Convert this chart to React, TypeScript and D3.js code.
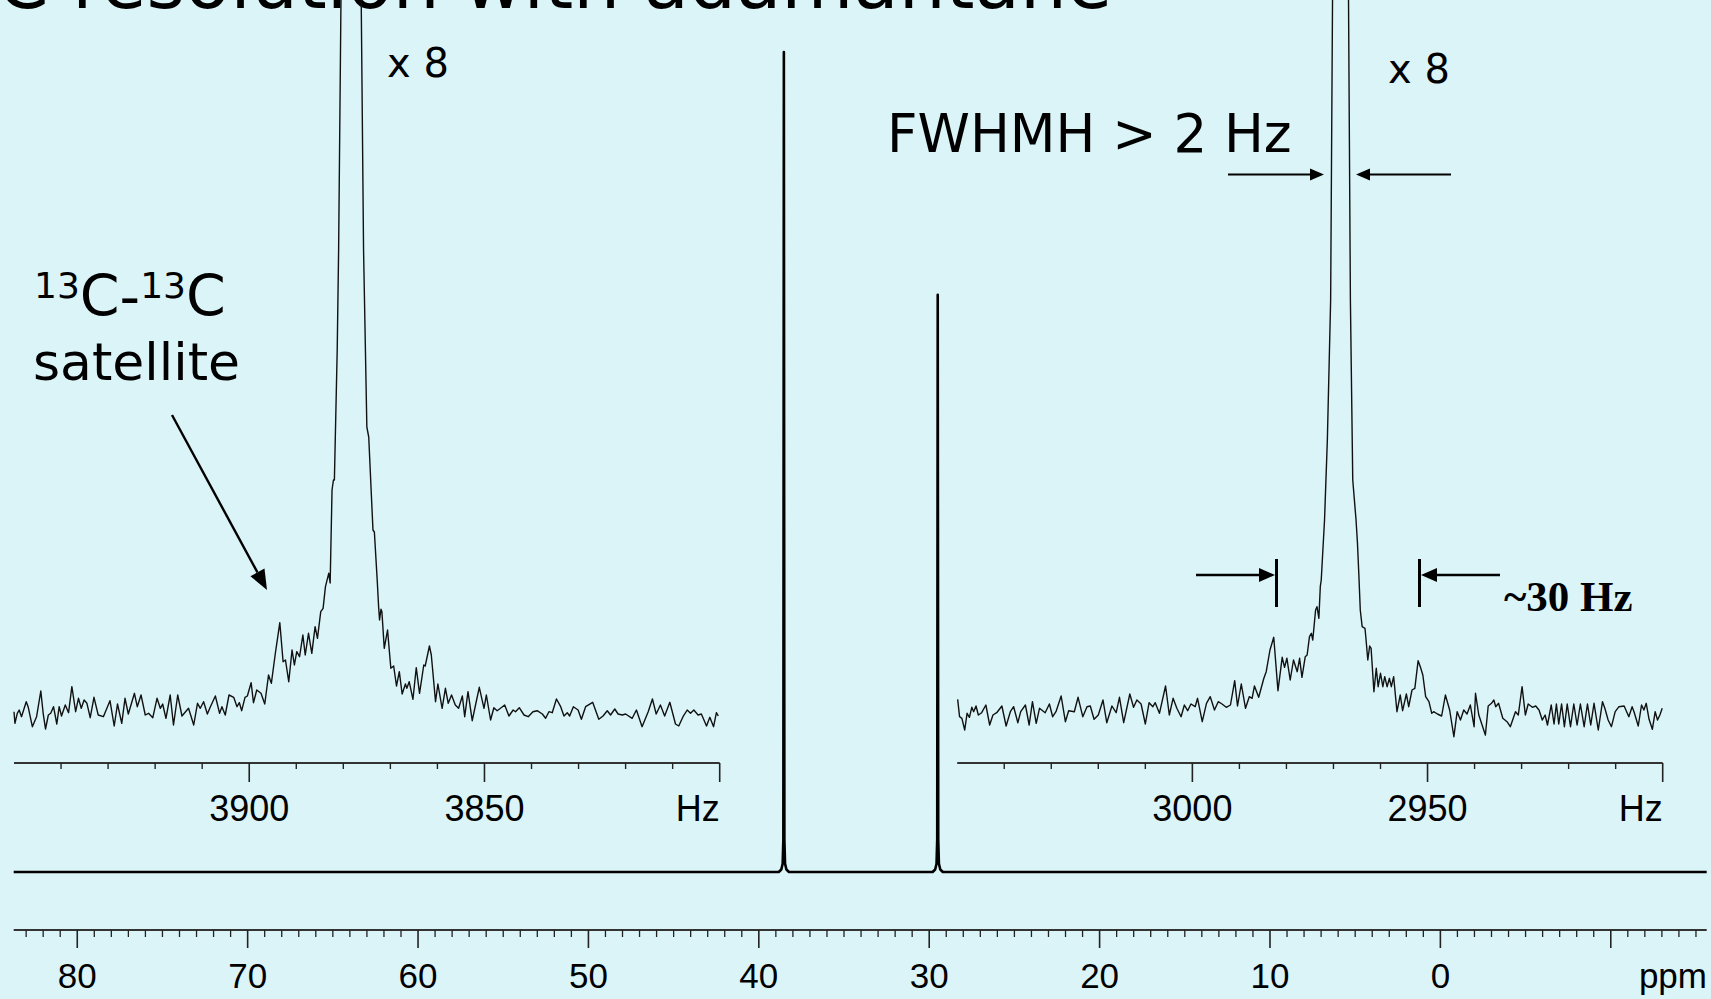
import React from "react";
import * as d3 from "d3";

// ---------- data ----------
// main spectrum (ppm vs relative intensity, tallest peak = 100)
const mainPpm = [83.73, 38.83, 38.68, 38.6, 38.56, 38.53, 38.5, 38.46, 38.38, 38.23, 29.8, 29.65, 29.57, 29.53, 29.5, 29.47, 29.43, 29.35, 29.2, -15.63];
const mainInt = [0, 0, 0.3, 1, 4, 100, 4, 1, 0.3, 0, 0, 0.3, 1, 4, 70.4, 4, 1, 0.3, 0, 0];
const mainMajorTicks = [80, 70, 60, 50, 40, 30, 20, 10, 0, -10];
const mainTickLabels = ["80", "70", "60", "50", "40", "30", "20", "10", "0", ""];

// left inset (x8), Hz vs intensity
const leftHz = [3950.0, 3949.8, 3949.3, 3948.9, 3948.4, 3947.4, 3947.0, 3946.1, 3945.2, 3944.3, 3943.8, 3943.3, 3942.7, 3942.2, 3941.6, 3940.9, 3940.4, 3939.9, 3939.1, 3938.4, 3937.7, 3936.9, 3936.3, 3935.7, 3935.1, 3934.5, 3933.8, 3933.0, 3932.1, 3931.0, 3929.6, 3928.7, 3928.0, 3927.1, 3926.4, 3925.7, 3924.4, 3923.8, 3923.0, 3922.1, 3921.4, 3920.5, 3919.6, 3918.9, 3918.4, 3917.7, 3916.8, 3916.1, 3915.2, 3914.3, 3912.9, 3911.8, 3911.0, 3910.4, 3909.7, 3908.9, 3908.3, 3907.2, 3906.3, 3905.8, 3905.1, 3904.3, 3903.3, 3902.6, 3902.1, 3901.6, 3900.9, 3900.4, 3899.6, 3899.1, 3898.4, 3897.5, 3896.7, 3895.9, 3895.3, 3894.5, 3893.5, 3892.8, 3892.3, 3891.6, 3890.9, 3890.4, 3889.9, 3889.3, 3888.6, 3888.1, 3887.4, 3886.7, 3886.0, 3885.5, 3884.8, 3884.3, 3883.8, 3883.1, 3882.8, 3882.4, 3882.1, 3881.9, 3881.3, 3881.0, 3880.5, 3880.3, 3878.3, 3876.3, 3876.2, 3875.7, 3875.0, 3874.6, 3873.7, 3873.4, 3872.8, 3872.5, 3872.3, 3872.0, 3871.8, 3871.3, 3870.6, 3869.9, 3869.3, 3868.7, 3868.1, 3867.5, 3866.8, 3866.5, 3866.0, 3865.2, 3864.5, 3863.8, 3862.9, 3862.6, 3861.7, 3861.3, 3860.4, 3859.9, 3859.0, 3858.3, 3857.7, 3857.0, 3856.2, 3855.5, 3854.7, 3854.2, 3853.5, 3852.6, 3851.9, 3851.1, 3850.1, 3849.6, 3848.7, 3848.0, 3847.3, 3846.6, 3845.7, 3844.8, 3843.9, 3843.4, 3842.6, 3841.6, 3840.7, 3839.7, 3838.8, 3837.7, 3837.0, 3836.3, 3835.6, 3834.7, 3833.8, 3833.1, 3832.4, 3831.9, 3831.1, 3830.1, 3829.4, 3828.5, 3827.0, 3825.7, 3824.8, 3823.9, 3823.2, 3822.3, 3821.6, 3820.7, 3820.0, 3818.6, 3817.7, 3816.5, 3815.2, 3814.3, 3813.5, 3812.6, 3811.7, 3810.6, 3809.4, 3808.7, 3807.8, 3806.9, 3806.2, 3805.5, 3804.6, 3803.9, 3802.8, 3802.1, 3801.3, 3800.7, 3800.3];
const leftInt = [8.3, -3.3, 6.7, 10, 3.3, 18.3, 13.3, -6.7, 3.3, 29, 6.7, -9, 5, 6.7, 13.3, -4, 13.3, 4, 15, 7.3, 33.3, 8.3, 21.7, 11.7, 20, 16.7, 2.3, 22.7, 5, 3.3, 19.3, -6, 16, -3.3, 21.7, 6, 26.7, 13.3, 25, 5, 6.7, 2.3, 21.7, 11.7, 16, 1.7, 25, -5, 25, 4, 11.7, -5, 16.7, 11.7, 18.3, 6, 12.7, 24, 6.7, 13.3, 5, 25, 22.7, 13.3, 17.3, 9.3, 22.7, 24, 37.3, 17.3, 30, 26.7, 16, 45, 36.7, 65, 97.3, 58.3, 60, 38.3, 70, 55, 68.3, 63.3, 85, 65, 86.7, 66.7, 93.3, 81.7, 108.3, 111.7, 133.3, 146.7, 137, 230, 240, 240, 370, 470, 720, 900, 2200, 900, 720, 470, 293, 283, 190, 188, 140, 113.3, 100, 110.7, 108.3, 71.7, 90, 51.7, 54, 34, 48.3, 26, 36, 31.7, 38.3, 20.7, 52.3, 26.7, 55, 54, 74, 65, 18.3, 36, 11.7, 31.7, 16.7, 25, 15, 11.7, 24, 3.3, 28.3, -0.7, 15, 32.7, 11.7, 25, 0, 12.3, 9.3, 11.7, 15, 4, 10, 8.3, 12.3, 5, 3.3, 8.3, 9.3, 6, 1.7, 8.3, 7.3, 21, 13.3, 4, 7.3, 4, 13.3, 10, 0.7, 13.3, 17.7, 0.7, 4, 9.3, 5, 11, 6, 5, 6, 1.7, 10, -6.7, 8.3, 21, 6, 15, 4, 17.7, -4, -6, 3.3, 10, 6.7, 10, 5, 6, -6, 2.7, -6.7, 7.3, 4];
const leftMajorTicks = [3900, 3850, 3800];
const leftTickLabels = ["3900", "3850", ""];

// right inset (x8), Hz vs intensity
const rightHz = [3049.9, 3049.5, 3049.0, 3048.4, 3047.9, 3047.4, 3046.9, 3046.5, 3046.0, 3045.5, 3044.8, 3043.9, 3043.1, 3042.4, 3041.6, 3040.5, 3039.6, 3038.7, 3038.0, 3037.1, 3036.5, 3035.5, 3034.7, 3034.0, 3033.2, 3032.5, 3031.3, 3030.4, 3029.7, 3029.0, 3027.9, 3027.0, 3026.3, 3025.1, 3024.3, 3023.3, 3022.4, 3021.7, 3020.9, 3020.0, 3019.0, 3018.2, 3017.1, 3016.2, 3015.5, 3014.6, 3013.3, 3012.5, 3011.8, 3010.9, 3010.0, 3009.2, 3008.4, 3007.9, 3007.0, 3005.7, 3004.9, 3004.1, 3003.3, 3002.4, 3001.7, 3001.0, 3000.3, 2999.4, 2998.9, 2997.9, 2997.0, 2996.2, 2995.3, 2994.5, 2993.7, 2992.8, 2991.9, 2991.0, 2990.4, 2989.6, 2988.7, 2987.9, 2987.3, 2986.8, 2985.9, 2984.8, 2984.3, 2983.5, 2982.7, 2981.8, 2980.9, 2980.4, 2979.9, 2979.2, 2978.5, 2977.7, 2977.2, 2976.7, 2976.0, 2975.6, 2975.1, 2974.7, 2974.4, 2973.8, 2973.5, 2973.1, 2972.8, 2972.6, 2971.9, 2971.3, 2970.6, 2970.2, 2970.0, 2968.5, 2967.0, 2966.8, 2966.4, 2965.9, 2965.2, 2964.9, 2964.6, 2964.3, 2963.9, 2963.3, 2963.1, 2962.7, 2962.3, 2962.0, 2961.4, 2960.9, 2960.5, 2960.0, 2959.5, 2959.1, 2958.6, 2958.1, 2957.7, 2957.2, 2956.5, 2955.8, 2955.3, 2954.5, 2954.0, 2953.3, 2952.7, 2952.0, 2951.5, 2951.0, 2950.4, 2949.7, 2949.1, 2948.7, 2947.9, 2947.0, 2946.2, 2945.3, 2944.4, 2943.7, 2943.0, 2942.3, 2941.6, 2940.9, 2940.1, 2939.8, 2939.1, 2938.4, 2937.7, 2937.1, 2936.4, 2935.9, 2935.5, 2934.9, 2934.0, 2933.1, 2932.4, 2931.3, 2930.7, 2929.9, 2929.2, 2928.6, 2927.7, 2927.0, 2926.3, 2925.6, 2925.0, 2924.5, 2923.7, 2923.1, 2922.6, 2922.1, 2921.5, 2920.9, 2920.3, 2919.6, 2918.9, 2918.2, 2917.5, 2916.7, 2916.0, 2915.3, 2914.6, 2913.7, 2912.8, 2912.3, 2911.6, 2910.9, 2910.1, 2909.3, 2908.2, 2907.2, 2906.5, 2906.1, 2905.2, 2904.5, 2904.0, 2903.5, 2902.9, 2902.2, 2901.6, 2901.1, 2900.6, 2900.1];
const rightInt = [20.7, 3.3, 1.7, -10, 6.7, 2.7, 12.7, 8.3, 14, 5, 7.3, 15, -5, 5, 7.3, 14, -6, 8.3, 13.3, -2.7, 8.3, 15, -5, 18.3, -3.3, 11.7, 7.3, 16, 3.3, 8.3, 24, -1.7, 9.3, 8.3, 22.7, 3.3, 13.3, 14, 0.7, 5, 20, -2.7, 14, 7.3, 22.7, -2.7, 26, 12.7, 20, 16, -4, 17.3, 13.3, 17.3, 6.7, 34, 5, 21.7, 11.7, 3.3, 15, 9.3, 16, 13.3, 21.7, -1.7, 16.7, 23.3, 10, 18.3, 16, 12.7, 15, 39.3, 14, 36, 11.7, 23.3, 21.7, 34, 22.7, 41.7, 48.3, 70, 82.7, 29.3, 62.7, 52.7, 61.7, 40, 60, 48.3, 61.7, 42.7, 63.3, 65, 83.3, 86.7, 80, 110, 113.3, 101.7, 133.3, 140, 200, 280, 420, 720, 900, 2200, 900, 720, 420, 240, 200, 177, 145, 110, 93.3, 91.7, 81.7, 60, 74, 71.7, 28.3, 51.7, 33.3, 46.7, 33.3, 43.3, 33.3, 41.7, 33.3, 43.3, 8.3, 25, 9.3, 26, 13.3, 30, 31.7, 59.3, 52.7, 45, 23.3, 18.3, 6.7, 8.3, 6, 4, 25, 10, -16.7, 8.3, 0, 10, 6, 15, -6.7, 26.7, 5, -5, -15, 14, 16.7, 20, 13.3, 16.7, 1.7, -1.7, -6.7, 8.3, 5, 33.3, 5, 16, 12.7, 14, 10, 0, 5, -5, 15, -4, 16, -4, 16, -6.7, 16, -6.7, 16, -5, 16, -6.7, 16, -5, 16.7, -10, 18.3, 11.7, 0, -6.7, 8.3, 13.3, 14, 3.3, 13.3, 8.3, -6, 15, 10, 16.7, 0.7, -9.3, 8.3, 0, 5, 11.7];
const rightMajorTicks = [3000, 2950, 2900];
const rightTickLabels = ["3000", "2950", ""];

// ---------- layout ----------
const W = 1711;
const H = 999;
const BG = "#dbf4f8";
const SANS = "'DejaVu Sans', Verdana, sans-serif";
const ARIAL = "'Liberation Sans', Arial, Helvetica, sans-serif";

const xMain = d3.scaleLinear().domain([83.73, -15.63]).range([13.7, 1706.7]);
const yMain = d3.scaleLinear().domain([0, 100]).range([872, 52]);
const xLeft = d3.scaleLinear().domain([3950, 3800]).range([14, 719.7]);
const xRight = d3.scaleLinear().domain([3050, 2900]).range([957.2, 1662.7]);
const yInset = d3.scaleLinear().domain([0, 100]).range([720, 620]);

const MAIN_AXIS_Y = 930;
const INSET_AXIS_Y = 763;

function pathOf(xs: number[], ys: number[], sx: any, sy: any) {
  const pts = xs.map((x, i) => [x, ys[i]] as [number, number]);
  return d3.line<[number, number]>().x((d) => sx(d[0])).y((d) => sy(d[1])).curve(d3.curveLinear)(pts) || "";
}

function InsetAxis({ sx, majors, labels, minorFrom, minorTo }: any) {
  const [d0, d1] = sx.domain();
  const minors = d3.range(minorTo, minorFrom + 1, 10).filter((v: number) => !majors.includes(v));
  return (
    <g>
      <line x1={sx(d0)} x2={sx(d1)} y1={INSET_AXIS_Y} y2={INSET_AXIS_Y} stroke="#333" strokeWidth={2} />
      {minors.map((v: number) => (
        <line key={"m" + v} x1={sx(v)} x2={sx(v)} y1={INSET_AXIS_Y} y2={INSET_AXIS_Y + 6} stroke="#222" strokeWidth={1.4} />
      ))}
      {majors.map((v: number, i: number) => (
        <g key={"M" + v}>
          <line x1={sx(v)} x2={sx(v)} y1={INSET_AXIS_Y} y2={INSET_AXIS_Y + 19} stroke="#222" strokeWidth={1.6} />
          {labels[i] ? (
            <text x={sx(v)} y={821} textAnchor="middle" fontFamily={ARIAL} fontSize={36} fill="#000">
              {labels[i]}
            </text>
          ) : null}
        </g>
      ))}
      <text x={sx(d1)} y={821} textAnchor="end" fontFamily={ARIAL} fontSize={36} fill="#000">
        Hz
      </text>
    </g>
  );
}

function Arrow({ x1, y1, x2, y2, w = 2.2, head = 16, hw = 6 }: any) {
  const ang = Math.atan2(y2 - y1, x2 - x1);
  const bx = x2 - head * Math.cos(ang);
  const by = y2 - head * Math.sin(ang);
  const px = -Math.sin(ang) * hw;
  const py = Math.cos(ang) * hw;
  return (
    <g>
      <line x1={x1} y1={y1} x2={bx} y2={by} stroke="#000" strokeWidth={w} />
      <path d={`M${x2},${y2} L${bx + px},${by + py} L${bx - px},${by - py} Z`} fill="#000" />
    </g>
  );
}

export default function App() {
  const mainTicksMinor = d3.range(-15, 84).filter((v) => !mainMajorTicks.includes(v));
  return (
    <svg
      width={W}
      height={H}
      viewBox={`0 0 ${W} ${H}`}
      style={{ position: "absolute", left: 0, top: 0, display: "block" }}
    >
      <rect x={0} y={0} width={W} height={H} fill={BG} />

      {/* slide title, cut off by the top edge as in the original */}
      <text x={-3} y={8} fontFamily={SANS} fontSize={74} fill="#000">
        C resolution with adamantane
      </text>

      {/* main spectrum */}
      <path d={pathOf(mainPpm, mainInt, xMain, yMain)} fill="none" stroke="#000" strokeWidth={2.6} strokeLinejoin="round" />

      {/* main axis */}
      <line x1={xMain(83.73)} x2={xMain(-15.63)} y1={MAIN_AXIS_Y} y2={MAIN_AXIS_Y} stroke="#333" strokeWidth={2} />
      {mainTicksMinor.map((v) => (
        <line key={"mm" + v} x1={xMain(v)} x2={xMain(v)} y1={MAIN_AXIS_Y} y2={MAIN_AXIS_Y + 7} stroke="#222" strokeWidth={1.3} />
      ))}
      {mainMajorTicks.map((v, i) => (
        <g key={"MM" + v}>
          <line x1={xMain(v)} x2={xMain(v)} y1={MAIN_AXIS_Y} y2={MAIN_AXIS_Y + 18} stroke="#222" strokeWidth={1.6} />
          {mainTickLabels[i] ? (
            <text x={xMain(v)} y={988} textAnchor="middle" fontFamily={ARIAL} fontSize={35} fill="#000">
              {mainTickLabels[i]}
            </text>
          ) : null}
        </g>
      ))}
      <text x={1707} y={988} textAnchor="end" fontFamily={ARIAL} fontSize={35} fill="#000">
        ppm
      </text>

      {/* left inset */}
      <path d={pathOf(leftHz, leftInt, xLeft, yInset)} fill="none" stroke="#111" strokeWidth={1.4} strokeLinejoin="round" />
      <InsetAxis sx={xLeft} majors={leftMajorTicks} labels={leftTickLabels} minorFrom={3940} minorTo={3800} />

      {/* right inset */}
      <path d={pathOf(rightHz, rightInt, xRight, yInset)} fill="none" stroke="#111" strokeWidth={1.4} strokeLinejoin="round" />
      <InsetAxis sx={xRight} majors={rightMajorTicks} labels={rightTickLabels} minorFrom={3040} minorTo={2900} />

      {/* annotations */}
      <text x={387} y={77} fontFamily={SANS} fontSize={40} fill="#000">x 8</text>
      <text x={1388} y={83} fontFamily={SANS} fontSize={40} fill="#000">x 8</text>

      <text x={34} y={316} fontFamily={SANS} fontSize={57} fill="#000">
        <tspan fontSize={36} dy={-18}>13</tspan>
        <tspan dy={18}>C-</tspan>
        <tspan fontSize={36} dy={-18}>13</tspan>
        <tspan dy={18}>C</tspan>
      </text>
      <text x={33} y={380} fontFamily={SANS} fontSize={52} fill="#000">satellite</text>
      <Arrow x1={172} y1={415} x2={267} y2={590} w={2.4} head={20} hw={8} />

      <text x={887} y={152} fontFamily={SANS} fontSize={53} fill="#000">FWHMH &gt; 2 Hz</text>
      <Arrow x1={1228} y1={174.5} x2={1324} y2={174.5} w={2} head={14} hw={6} />
      <Arrow x1={1451} y1={174.5} x2={1356} y2={174.5} w={2} head={14} hw={6} />

      <Arrow x1={1196} y1={575} x2={1275} y2={575} w={2.6} head={16} hw={7} />
      <line x1={1276.5} x2={1276.5} y1={559} y2={607} stroke="#000" strokeWidth={3} />
      <Arrow x1={1500} y1={575} x2={1421} y2={575} w={2.6} head={16} hw={7} />
      <line x1={1419.5} x2={1419.5} y1={559} y2={607} stroke="#000" strokeWidth={3} />
      <text x={1504} y={611} fontFamily="'Liberation Serif', 'Times New Roman', serif" fontWeight="bold" fontSize={43} fill="#000">
        ~30 Hz
      </text>
    </svg>
  );
}
